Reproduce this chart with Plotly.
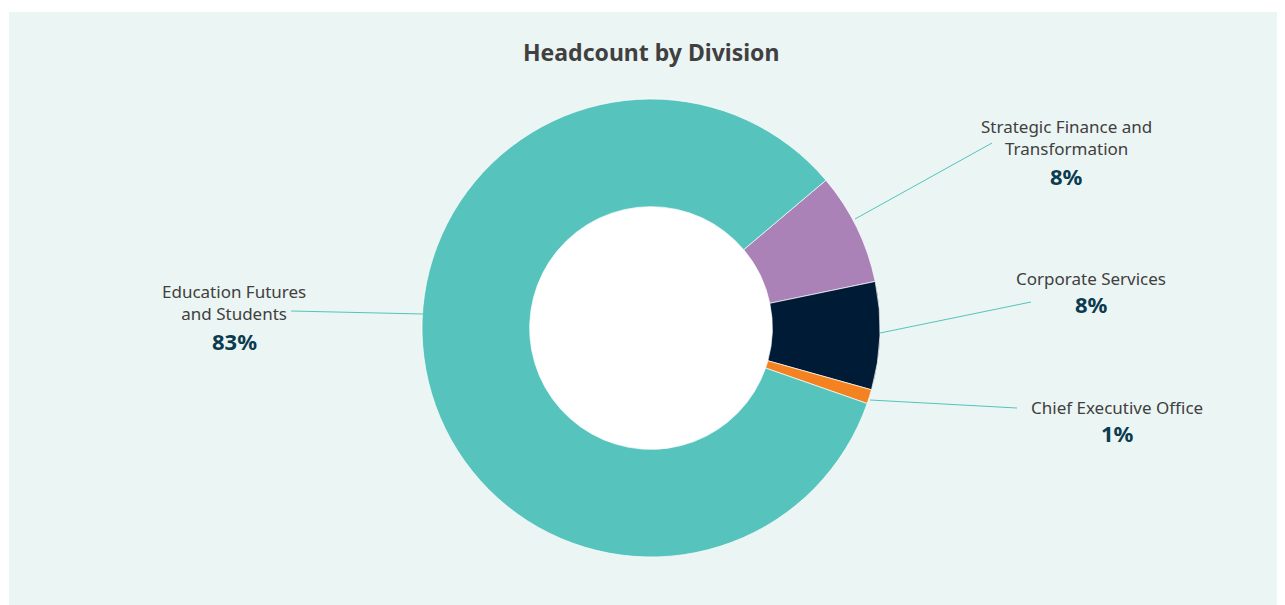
import plotly.graph_objects as go

W, H = 1285, 605
OFF = 8  # page body margin in the browser

divisions = ["Strategic Finance and<br>Transformation", "Corporate Services",
             "Chief Executive Office", "Education Futures<br>and Students"]
headcount = [79, 76, 10, 834]
colors = ["#AB82B8", "#001B36", "#F58220", "#56C3BD"]

# label anchor (px) and leader line (px) for each division -- layout only
label_pos = [(1066, 137), (1091, 278), (1117, 407), (234, 303)]
pct_pos = [(1066, 176), (1091, 304), (1117, 433), (234, 341)]
leaders = [((855, 219), (992, 143)), ((880, 333), (1031, 302)),
           ((870, 400), (1017, 408)), ((423, 314), (291, 311))]


def px(x):
    return (x - OFF) / W


def py(y):
    return 1 - (y - OFF) / H


cx, cy, r = 651, 328, 229
hole = 0.53

fig = go.Figure(go.Pie(
    labels=[d.replace("<br>", " ") for d in divisions],
    values=headcount,
    sort=False,
    direction="clockwise",
    rotation=49.8,
    hole=hole,
    marker=dict(colors=colors, line=dict(color="#ffffff", width=0.7)),
    textinfo="none",
    hoverinfo="label+percent",
    showlegend=False,
    domain=dict(x=[px(cx - r), px(cx + r)], y=[py(cy + r), py(cy - r)]),
))

ri = r * hole
shapes = [
    dict(type="rect", xref="paper", yref="paper", x0=px(9), x1=1.02, y0=-0.02, y1=py(12),
         fillcolor="#EBF5F3", line=dict(width=0), layer="below"),
    dict(type="circle", xref="paper", yref="paper", x0=px(cx - ri), x1=px(cx + ri),
         y0=py(cy + ri), y1=py(cy - ri), fillcolor="#ffffff", line=dict(width=0), layer="below"),
]
for (x0, y0), (x1, y1) in leaders:
    shapes.append(dict(type="line", xref="paper", yref="paper", x0=px(x0), y0=py(y0),
                       x1=px(x1), y1=py(y1), line=dict(color="#56C3BD", width=1)))

total = sum(headcount)
annotations = []
for name, v, (lx, ly), (qx, qy) in zip(divisions, headcount, label_pos, pct_pos):
    annotations.append(dict(x=px(lx), y=py(ly), xref="paper", yref="paper", text=name,
                            showarrow=False, xanchor="center", yanchor="middle",
                            font=dict(size=17, color="#404040")))
    annotations.append(dict(x=px(qx), y=py(qy), xref="paper", yref="paper",
                            text="<b>%d%%</b>" % round(100 * v / total),
                            showarrow=False, xanchor="center", yanchor="middle",
                            font=dict(size=22, color="#0B3B4F")))
annotations.append(dict(x=px(651), y=py(52), xref="paper", yref="paper",
                        text="<b>Headcount by Division</b>", showarrow=False,
                        xanchor="center", yanchor="middle",
                        font=dict(size=23, color="#404040")))

fig.update_layout(
    width=W, height=H,
    margin=dict(l=0, r=0, t=0, b=0),
    paper_bgcolor="#ffffff",
    font=dict(family="Noto Sans, sans-serif"),
    shapes=shapes,
    annotations=annotations,
)

fig.write_html("out.html")
